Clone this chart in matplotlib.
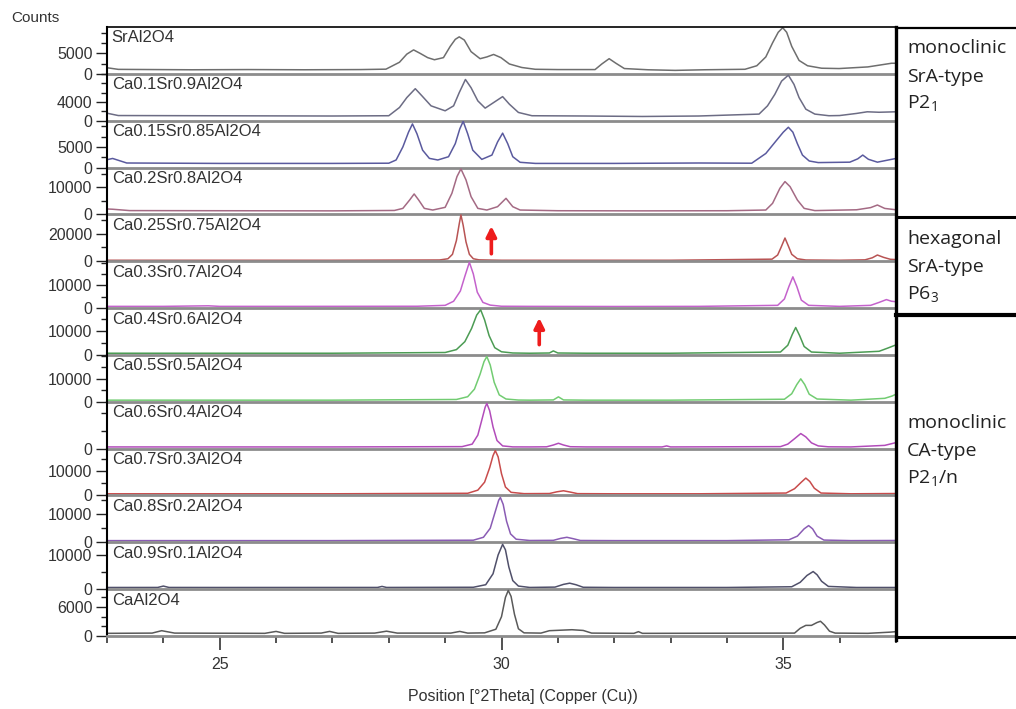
import matplotlib
matplotlib.use("Agg")
import matplotlib.pyplot as plt
from matplotlib.lines import Line2D
from matplotlib.ticker import FixedLocator, MultipleLocator, NullFormatter, FuncFormatter

# ---------------- data ----------------
sample_names = ["SrAl2O4", "Ca0.1Sr0.9Al2O4", "Ca0.15Sr0.85Al2O4", "Ca0.2Sr0.8Al2O4",
                "Ca0.25Sr0.75Al2O4", "Ca0.3Sr0.7Al2O4", "Ca0.4Sr0.6Al2O4", "Ca0.5Sr0.5Al2O4",
                "Ca0.6Sr0.4Al2O4", "Ca0.7Sr0.3Al2O4", "Ca0.8Sr0.2Al2O4", "Ca0.9Sr0.1Al2O4",
                "CaAl2O4"]

theta_sr100 = [23.0, 23.2, 24.5, 25.5, 26.5, 27.5, 27.95, 28.19, 28.32, 28.44, 28.56, 28.69, 28.81,
               28.97, 29.09, 29.18, 29.25, 29.34, 29.46, 29.62, 29.74, 29.86, 29.99, 30.14, 30.36,
               30.60, 31.0, 31.66, 31.78, 31.91, 32.03, 32.18, 32.6, 33.08, 33.6, 34.32, 34.53,
               34.69, 34.81, 34.91, 34.99, 35.06, 35.15, 35.28, 35.43, 35.68, 35.99, 36.5, 36.92,
               37.0]
counts_sr100 = [1500, 1100, 1000, 1050, 1000, 1050, 1150, 2850, 4840, 5880, 5000, 3980, 3460,
                3980, 6740, 8470, 9080, 8300, 5450, 3720, 4150, 4760, 3980, 2420, 1560,
                1120, 1050, 1050, 2420, 3720, 2600, 1300, 1000, 850, 1000, 1120, 1990,
                4150, 7610, 10200, 11330, 10200, 6740, 3290, 1990, 1380, 1300, 1700, 2600,
                2600]

theta_ca10 = [23.0, 23.2, 25.0, 27.0, 28.0, 28.19, 28.32, 28.47, 28.59, 28.75, 29.0, 29.15, 29.25,
              29.36, 29.46, 29.58, 29.71, 29.86, 30.02, 30.14, 30.30, 30.54, 31.5, 32.5, 33.5,
              34.57, 34.72, 34.85, 34.97, 35.09, 35.19, 35.28, 35.40, 35.56, 35.81, 36.0, 36.30,
              36.49, 36.7, 37.0]
counts_ca10 = [1600, 1100, 1050, 1000, 1060, 2820, 4930, 6830, 5280, 3170, 2110, 3170, 5990,
               8800, 7040, 4230, 2680, 3870, 5140, 3520, 1760, 1060, 1000, 900, 1000,
               1410, 3170, 5630, 8450, 9720, 7750, 4930, 2460, 1410, 1060, 1100, 1550,
               1900, 1800, 1900]

theta_ca15 = [23.0, 23.1, 23.35, 25.0, 27.0, 28.0, 28.13, 28.25, 28.35, 28.42, 28.50, 28.60, 28.72,
              28.87, 29.06, 29.18, 29.26, 29.32, 29.40, 29.49, 29.65, 29.83, 29.93, 30.02, 30.11,
              30.20, 30.33, 30.6, 32.0, 33.5, 34.44, 34.69, 34.88, 35.0, 35.09, 35.17, 35.25,
              35.34, 35.46, 35.62, 36.18, 36.32, 36.41, 36.51, 36.67, 37.0]
counts_ca15 = [1900, 2200, 1100, 1000, 1000, 1050, 1830, 5000, 8570, 10560, 8180, 4210, 2220,
               1830, 2620, 5790, 9370, 11190, 8180, 4210, 1980, 3020, 6190, 8330, 5790,
               2620, 1270, 1000, 1000, 1100, 1050, 3410, 6590, 8570, 9760, 8570, 5790,
               3020, 1590, 1200, 1300, 2100, 3020, 2000, 1300, 2200]

theta_ca20 = [23.0, 23.1, 23.4, 25.0, 27.0, 28.1, 28.25, 28.37, 28.45, 28.53, 28.63, 28.78, 29.0,
              29.12, 29.21, 29.28, 29.37, 29.46, 29.58, 29.74, 29.93, 30.08, 30.20, 30.33, 31.0,
              32.5, 34.0, 34.69, 34.81, 34.94, 35.03, 35.12, 35.25, 35.37, 35.56, 36.3, 36.55,
              36.67, 36.8, 37.0]
counts_ca20 = [2000, 1900, 1400, 1350, 1300, 1450, 2220, 5310, 7540, 5310, 2220, 1610, 2600,
               7790, 13960, 16800, 12730, 6550, 2220, 1610, 2840, 5930, 2840, 1610, 1350,
               1300, 1350, 1610, 4080, 9640, 12110, 10260, 5310, 2220, 1400, 1700, 2500,
               3460, 2200, 1700]

theta_ca25 = [23.0, 25.0, 27.0, 28.9, 29.05, 29.13, 29.20, 29.25, 29.28, 29.32, 29.37, 29.43, 29.50,
              29.6, 30.0, 31.5, 33.0, 34.80, 34.90, 34.96, 35.03, 35.09, 35.15, 35.25, 35.4,
              36.0, 36.45, 36.58, 36.67, 36.78, 36.9, 37.0]
counts_ca25 = [700, 700, 700, 900, 1800, 5000, 15000, 27000, 33500, 26000, 14000, 5000, 1800,
               1000, 700, 700, 700, 1500, 4500, 10000, 16800, 11000, 5000, 1800, 900,
               700, 1000, 2500, 4500, 2800, 1400, 1200]

theta_ca30 = [23.0, 24.0, 24.8, 25.0, 26.5, 28.5, 29.0, 29.15, 29.27, 29.35, 29.43, 29.50, 29.57,
              29.67, 29.80, 30.0, 30.5, 32.0, 33.5, 34.90, 35.02, 35.10, 35.17, 35.24, 35.32,
              35.45, 36.0, 36.55, 36.70, 36.83, 36.92, 37.0]
counts_ca30 = [750, 750, 1000, 750, 750, 800, 1200, 3000, 7500, 14000, 20150, 15000, 7000,
               2500, 1300, 800, 750, 700, 750, 1200, 4000, 9500, 13730, 9500, 3500,
               1200, 750, 1200, 2500, 3730, 3000, 2800]

theta_ca40 = [23.0, 25.0, 27.0, 29.0, 29.2, 29.35, 29.47, 29.56, 29.63, 29.70, 29.78, 29.88, 30.0,
              30.2, 30.5, 30.85, 30.92, 31.0, 31.5, 33.0, 34.95, 35.08, 35.16, 35.22, 35.29,
              35.37, 35.5, 36.0, 36.7, 36.85, 37.0]
counts_ca40 = [700, 700, 700, 1000, 2200, 5500, 11000, 16500, 18700, 14500, 8000, 3000, 1300,
               800, 700, 800, 1660, 800, 700, 700, 1200, 4000, 8500, 11360, 8000,
               3500, 1200, 700, 1500, 2800, 4160]

theta_ca50 = [23.0, 25.0, 27.0, 29.2, 29.40, 29.52, 29.62, 29.69, 29.74, 29.80, 29.87, 29.96, 30.08,
              30.3, 30.5, 30.92, 31.01, 31.10, 31.5, 33.0, 35.02, 35.15, 35.24, 35.31, 35.38,
              35.46, 35.6, 36.2, 36.8, 36.93, 37.0]
counts_ca50 = [700, 700, 700, 1000, 2200, 5500, 12000, 17500, 19690, 16000, 8500, 3000, 1200,
               750, 700, 800, 2140, 800, 700, 700, 1100, 3500, 7500, 9990, 7500,
               3300, 1200, 700, 1500, 2500, 3280]

theta_ca60 = [23.0, 25.0, 27.0, 29.3, 29.48, 29.58, 29.66, 29.71, 29.74, 29.79, 29.85, 29.92, 30.02,
              30.2, 30.5, 30.8, 30.92, 31.01, 31.10, 31.22, 31.5, 32.85, 32.93, 33.0, 34.95,
              35.08, 35.20, 35.31, 35.40, 35.50, 35.62, 35.8, 36.2, 36.8, 37.0]
counts_ca60 = [930, 930, 930, 1100, 2500, 7500, 17000, 23000, 25070, 21000, 12000, 4500, 1500,
               950, 930, 1000, 2000, 2970, 2000, 1050, 930, 930, 1500, 930, 1100,
               2500, 5500, 8360, 6500, 3200, 1500, 1000, 930, 1800, 3340]

theta_ca70 = [23.0, 25.0, 27.0, 29.4, 29.58, 29.70, 29.79, 29.85, 29.89, 29.94, 30.00, 30.07, 30.17,
              30.4, 30.85, 30.98, 31.10, 31.22, 31.35, 32.0, 33.5, 35.05, 35.20, 35.32, 35.40,
              35.47, 35.55, 35.67, 36.2, 37.0]
counts_ca70 = [690, 690, 690, 900, 2200, 5500, 11500, 16500, 18570, 16000, 9000, 3500, 1300,
               750, 800, 1500, 1940, 1400, 750, 690, 690, 1000, 2800, 5500, 7200,
               5800, 3000, 1000, 690, 800]

theta_ca80 = [23.0, 25.0, 27.0, 29.5, 29.68, 29.80, 29.89, 29.95, 29.98, 30.03, 30.09, 30.16, 30.26,
              30.5, 30.92, 31.05, 31.16, 31.27, 31.40, 32.0, 34.0, 35.10, 35.25, 35.37, 35.45,
              35.52, 35.60, 35.72, 36.2, 37.0]
counts_ca80 = [600, 600, 600, 750, 1800, 5000, 11000, 15000, 15980, 13500, 7500, 3000, 1100,
               650, 700, 1400, 1790, 1300, 650, 600, 600, 900, 2200, 4800, 5960,
               4800, 2200, 800, 600, 650]

theta_ca90 = [23.0, 23.9, 24.0, 24.1, 25.0, 27.8, 27.88, 27.96, 29.5, 29.72, 29.85, 29.94, 30.02,
              30.07, 30.13, 30.20, 30.30, 30.5, 30.95, 31.10, 31.21, 31.32, 31.45, 32.0, 33.0,
              34.0, 35.15, 35.30, 35.42, 35.53, 35.60, 35.68, 35.80, 36.3, 37.0]
counts_ca90 = [490, 500, 900, 500, 490, 500, 800, 500, 550, 1300, 4500, 10000, 13100,
               11500, 6500, 2500, 900, 500, 600, 1400, 1750, 1300, 550, 490, 490,
               490, 700, 2000, 4000, 5150, 4200, 2300, 800, 490, 490]

theta_ca100 = [23.0, 23.8, 23.97, 24.2, 25.8, 26.0, 26.15, 26.8, 26.95, 27.1, 27.75, 27.96, 28.15,
               29.1, 29.26, 29.4, 29.7, 29.90, 30.00, 30.07, 30.12, 30.17, 30.23, 30.30, 30.40,
               30.7, 30.85, 31.05, 31.25, 31.45, 31.6, 32.35, 32.43, 32.5, 35.2, 35.30, 35.40,
               35.50, 35.60, 35.66, 35.73, 35.82, 35.92, 36.5, 36.9, 37.0]
counts_ca100 = [550, 600, 1100, 600, 550, 950, 550, 600, 950, 550, 600, 1000, 600,
                600, 950, 600, 650, 1400, 4000, 8000, 9430, 8200, 4500, 1500, 650,
                600, 1100, 1200, 1300, 1150, 600, 550, 900, 550, 600, 1600, 2200,
                2200, 2800, 3050, 2300, 1000, 600, 550, 800, 900]

thetas = [theta_sr100, theta_ca10, theta_ca15, theta_ca20, theta_ca25, theta_ca30, theta_ca40,
          theta_ca50, theta_ca60, theta_ca70, theta_ca80, theta_ca90, theta_ca100]
counts = [counts_sr100, counts_ca10, counts_ca15, counts_ca20, counts_ca25, counts_ca30, counts_ca40,
          counts_ca50, counts_ca60, counts_ca70, counts_ca80, counts_ca90, counts_ca100]

# axis settings per panel: upper limit, labelled tick, minor tick step
y_limits = [11500, 10000, 11350, 17300, 33900, 20600, 19400, 20400, 26000, 19400, 16700, 13700, 9700]
y_major = [5000, 4000, 5000, 10000, 20000, 10000, 10000, 10000, None, 10000, 10000, 10000, 6000]
y_minor = [2500, 2000, 2500, 5000, 10000, 5000, 5000, 5000, 10000, 5000, 5000, 5000, 2000]

x_range = (23, 37)
x_major_ticks = [25, 30, 35]

phase_texts = [["monoclinic", "SrA-type", r"P2$_1$"],
               ["hexagonal", "SrA-type", r"P6$_3$"],
               ["monoclinic", "CA-type", r"P2$_1$/n"]]

colors = ["#6e6e6e", "#6c6c84", "#5a5a9e", "#a46a84", "#b85454", "#c462cc", "#4c9c54",
          "#72cc72", "#b24cba", "#c84c4c", "#8a5cb4", "#50506a", "#5a5a5a"]

# ---------------- figure ----------------
plt.rcParams['font.family'] = ['Liberation Sans', 'DejaVu Sans']
plt.rcParams['mathtext.fontset'] = 'custom'
plt.rcParams['mathtext.rm'] = 'Open Sans'
plt.rcParams['mathtext.it'] = 'Open Sans'
plt.rcParams['mathtext.bf'] = 'Open Sans'

W, H = 1016, 709
fig = plt.figure(figsize=(W / 100, H / 100), dpi=100)

L_PX, R_PX, T_PX, B_PX = 107, 896, 27, 636
n = len(sample_names)
ph = (B_PX - T_PX) / n
TXT = "#333333"

axes = []
for i in range(n):
    top = T_PX + i * ph
    ax = fig.add_axes([L_PX / W, 1 - (top + ph) / H, (R_PX - L_PX) / W, ph / H])
    axes.append(ax)
    ax.plot(thetas[i], counts[i], color=colors[i], lw=1.1, solid_joinstyle='round')
    ax.set_xlim(*x_range)
    ax.set_ylim(0, y_limits[i])
    ax.patch.set_alpha(0)
    ax.spines["right"].set_visible(False)
    ax.spines["top"].set_visible(i == 0)
    ax.spines["top"].set_color("black")
    ax.spines["top"].set_linewidth(1.2)
    ax.spines["left"].set_color("black")
    ax.spines["left"].set_linewidth(1.5)
    ax.spines["bottom"].set_color("#8c8c8c")
    ax.spines["bottom"].set_linewidth(2.0)
    if y_major[i] is not None:
        ax.yaxis.set_major_locator(FixedLocator([0, y_major[i]]))
    else:
        ax.yaxis.set_major_locator(FixedLocator([0]))
    ax.yaxis.set_minor_locator(MultipleLocator(y_minor[i]))
    ax.yaxis.set_minor_formatter(NullFormatter())
    ax.yaxis.set_major_formatter(FuncFormatter(lambda v, p: f"{int(v)}"))
    ax.tick_params(axis='y', which='major', direction='out', length=8, width=1.0,
                   labelsize=11.5, labelcolor=TXT, pad=2.5, color="#222222")
    ax.tick_params(axis='y', which='minor', direction='out', length=4.3, width=1.0, color="#222222")
    ax.text(0.006, 1 - 3.5 / ph, sample_names[i], transform=ax.transAxes, ha='left', va='top',
            fontsize=12, color=TXT)
    if i < n - 1:
        ax.tick_params(axis='x', which='both', bottom=False, labelbottom=False)
    else:
        ax.xaxis.set_major_locator(FixedLocator(x_major_ticks))
        ax.xaxis.set_minor_locator(MultipleLocator(1))
        ax.tick_params(axis='x', which='major', direction='out', length=10, width=1.2,
                       labelsize=11.5, labelcolor=TXT, pad=5, color="#333333")
        ax.tick_params(axis='x', which='minor', direction='out', length=5, width=1.2,
                       color="#333333")

# red arrows
axes[4].annotate("", xy=(29.82, 0.81), xytext=(29.82, 0.10),
                 xycoords=('data', 'axes fraction'), textcoords=('data', 'axes fraction'),
                 arrowprops=dict(arrowstyle='-|>,head_length=0.6,head_width=0.3',
                                 color='#ee1c1c', lw=2.6))
axes[6].annotate("", xy=(30.67, 0.85), xytext=(30.67, 0.16),
                 xycoords=('data', 'axes fraction'), textcoords=('data', 'axes fraction'),
                 arrowprops=dict(arrowstyle='-|>,head_length=0.6,head_width=0.3',
                                 color='#ee1c1c', lw=2.6))

# axis labels
fig.text(11 / W, 1 - 18 / H, "Counts", ha='left', va='center', fontsize=11, color=TXT)
fig.text(523 / W, 1 - 697 / H, "Position [°2Theta] (Copper (Cu))", ha='center', va='center',
         fontsize=11.5, color=TXT)

# right-hand phase boxes
def hline(y, lw):
    fig.add_artist(Line2D([R_PX / W, 1.0], [1 - y / H, 1 - y / H], color='black', lw=lw,
                          transform=fig.transFigure))

fig.add_artist(Line2D([R_PX / W, R_PX / W], [1 - 27 / H, 1 - 640 / H], color='black', lw=2.4,
                      transform=fig.transFigure))
hline(27.5, 1.6)
hline(216.5, 2.2)
hline(314.5, 3.0)
hline(636.5, 2.2)

phase_y = [[48, 77, 103], [239, 267, 294], [423, 451, 478]]
for block, ys in zip(phase_texts, phase_y):
    for t, y in zip(block, ys):
        fig.text(907 / W, 1 - y / H, t, ha='left', va='center', fontsize=14,
                 family='Open Sans', color="#222222")

fig.savefig("out.png", dpi=100)
